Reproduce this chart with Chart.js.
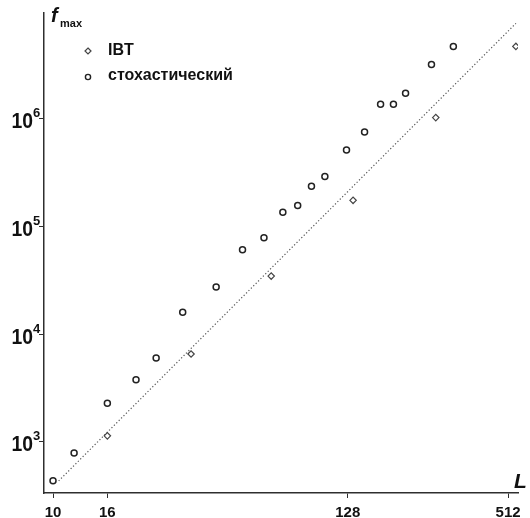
<!DOCTYPE html>
<html><head><meta charset="utf-8">
<script src="https://cdn.jsdelivr.net/npm/chart.js@4/dist/chart.umd.min.js"></script>
<style>html,body{margin:0;padding:0;background:#fff}#c{display:block}</style>
</head><body>
<canvas id="c" width="530" height="518"></canvas>
<script>
const ibtL = [16, 33, 66, 134, 274, 548];
const ibtF = [1140, 6530, 34400, 173000, 1010000, 4610000];
const stochL = [10, 12, 16, 20.5, 24.4, 30.7, 41, 51.5, 62, 73, 83, 93.5, 105, 126.6, 148, 170, 190, 211, 264, 319];
const stochF = [438, 790, 2280, 3780, 6000, 15900, 27200, 60400, 78000, 134000, 155000, 234000, 288000, 506000, 742000, 1340000, 1340000, 1700000, 3140000, 4610000];
const fitL = [10.5, 548];
const fitF = [436, 7540000];
const xTicks = [10, 16, 128, 512];
const yTicks = [1e3, 1e4, 1e5, 1e6];
const yExp = ['3', '4', '5', '6'];
const seriesNames = ['IBT', 'стохастический'];
const axisColor = '#2e2e2e';

const toPts = (xs, ys) => xs.map((x, i) => ({x: x, y: ys[i]}));

const labelPlugin = {
  id: 'labels',
  afterDraw(chart) {
    const ctx = chart.ctx, xs = chart.scales.x, ys = chart.scales.y;
    ctx.save();
    ctx.fillStyle = '#111';
    // y tick labels
    yTicks.forEach((v, i) => {
      const py = ys.getPixelForValue(v);
      ctx.save();
      ctx.translate(33, py + 9.5);
      ctx.scale(0.88, 1);
      ctx.font = 'bold 22px "Liberation Sans", Arial, sans-serif';
      ctx.textAlign = 'right';
      ctx.textBaseline = 'alphabetic';
      ctx.fillText('10', 0, 0);
      ctx.restore();
      ctx.font = 'bold 13px "Liberation Sans", Arial, sans-serif';
      ctx.textAlign = 'left';
      ctx.textBaseline = 'alphabetic';
      ctx.fillText(yExp[i], 33, py - 1.5);
    });
    // x tick labels
    ctx.font = 'bold 15px "Liberation Sans", Arial, sans-serif';
    ctx.textAlign = 'center';
    ctx.textBaseline = 'top';
    xTicks.forEach(v => {
      ctx.fillText(String(v), xs.getPixelForValue(v), 505);
    });
    // axis titles
    ctx.textBaseline = 'alphabetic';
    ctx.textAlign = 'left';
    ctx.font = 'italic bold 20px "Liberation Sans", Arial, sans-serif';
    ctx.fillText('f', 51, 22);
    ctx.font = 'bold 11px "Liberation Sans", Arial, sans-serif';
    ctx.fillText('max', 60, 27);
    ctx.font = 'italic bold 21px "Liberation Sans", Arial, sans-serif';
    ctx.fillText('L', 514, 488);
    // legend
    ctx.strokeStyle = '#444';
    ctx.lineWidth = 1.2;
    ctx.beginPath();
    ctx.moveTo(88, 48); ctx.lineTo(91, 51); ctx.lineTo(88, 54); ctx.lineTo(85, 51); ctx.closePath();
    ctx.stroke();
    ctx.strokeStyle = '#222';
    ctx.lineWidth = 1.4;
    ctx.beginPath();
    ctx.arc(88, 77, 2.6, 0, Math.PI * 2);
    ctx.stroke();
    ctx.font = 'bold 16px "Liberation Sans", Arial, sans-serif';
    ctx.textBaseline = 'middle';
    ctx.fillStyle = '#111';
    ctx.fillText(seriesNames[0], 108, 51);
    ctx.fillText(seriesNames[1], 108, 76);
    ctx.restore();
  }
};

new Chart(document.getElementById('c'), {
  type: 'scatter',
  data: {
    datasets: [
      {
        type: 'line',
        label: 'fit',
        data: toPts(fitL, fitF),
        borderColor: '#555',
        borderWidth: 1.2,
        borderDash: [1.2, 2.2],
        pointRadius: 0,
        fill: false,
        order: 3
      },
      {
        label: seriesNames[0],
        data: toPts(ibtL, ibtF),
        pointStyle: 'rectRot',
        pointRadius: 3.2,
        borderWidth: 1.2,
        borderColor: '#444',
        backgroundColor: '#fff',
        order: 2
      },
      {
        label: seriesNames[1],
        data: toPts(stochL, stochF),
        pointStyle: 'circle',
        pointRadius: 3,
        borderWidth: 1.5,
        borderColor: '#222',
        backgroundColor: 'rgba(255,255,255,0)',
        order: 1
      }
    ]
  },
  options: {
    responsive: false,
    animation: false,
    devicePixelRatio: 1,
    layout: {padding: {left: 39, right: 12, top: 13, bottom: 20}},
    plugins: {legend: {display: false}, tooltip: {enabled: false}},
    scales: {
      x: {
        type: 'logarithmic',
        min: 9.25,
        max: 558,
        afterBuildTicks: s => { s.ticks = xTicks.map(v => ({value: v})); },
        ticks: {display: false},
        grid: {display: true, drawOnChartArea: false, drawTicks: true, tickLength: 5, color: axisColor, lineWidth: 1},
        border: {display: true, color: axisColor, width: 1.5}
      },
      y: {
        type: 'logarithmic',
        min: 337,
        max: 9.4e6,
        afterBuildTicks: s => { s.ticks = yTicks.map(v => ({value: v})); },
        ticks: {display: false},
        grid: {display: true, drawOnChartArea: false, drawTicks: true, tickLength: 5, color: axisColor, lineWidth: 1},
        border: {display: true, color: axisColor, width: 1.5}
      }
    }
  },
  plugins: [labelPlugin]
});
</script>
</body></html>
